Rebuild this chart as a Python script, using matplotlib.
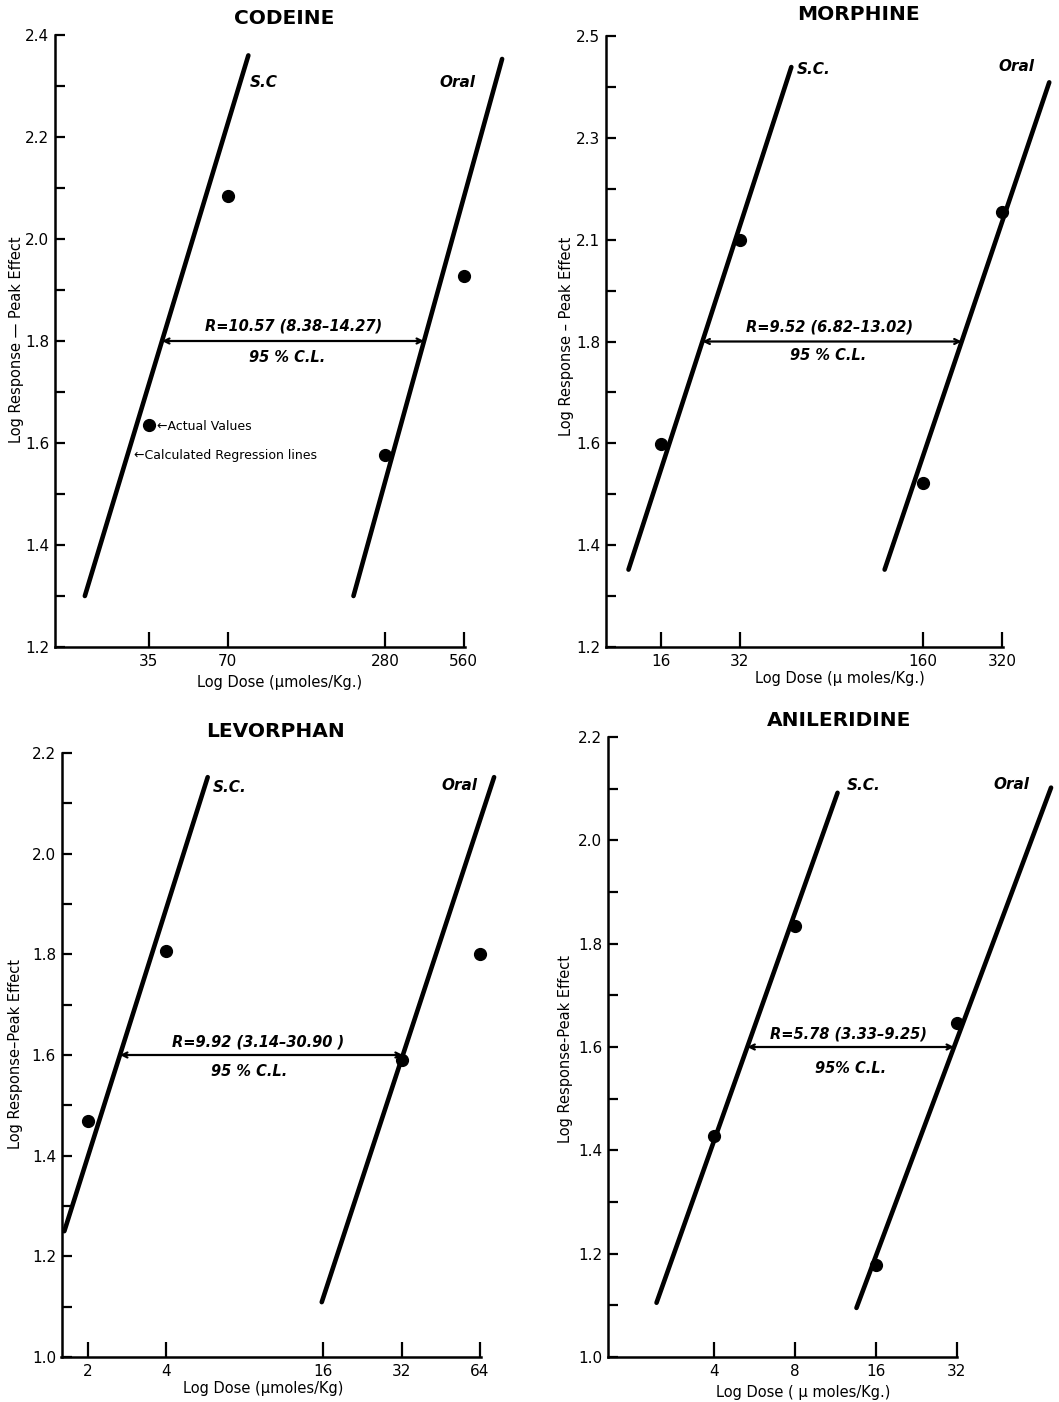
import numpy as np
import matplotlib
matplotlib.use('Agg')
import matplotlib.pyplot as plt
from matplotlib.ticker import NullLocator

plt.rcParams['font.family'] = ['DejaVu Sans']

# ---------------- CODEINE ----------------
codeine_dose = [35, 70, 280, 560]
codeine_resp = [1.635, 2.085, 1.576, 1.927]
codeine_sc_dose = [19.9, 84]
codeine_sc_resp = [1.30, 2.36]
codeine_oral_dose = [212, 785]
codeine_oral_resp = [1.30, 2.353]
codeine_xticks = [35, 70, 280, 560]
codeine_yticks = [1.2, 1.4, 1.6, 1.8, 2.0, 2.2, 2.4]
codeine_ylabels = ['1.2', '1.4', '1.6', '1.8', '2.0', '2.2', '2.4']
codeine_yminor = [1.3, 1.5, 1.7, 1.9, 2.1, 2.3]
codeine_ratio = 'R=10.57 (8.38\u201314.27)'

# ---------------- MORPHINE ----------------
# the printed y labels are unevenly spaced (2.1 -> 1.8 takes one step)
morph_dose = [16, 32, 160, 320]
morph_resp = [1.598, 2.10, 1.522, 2.155]
morph_sc_dose = [12.06, 50.3]
morph_sc_resp = [1.352, 2.439]
morph_oral_dose = [114, 483]
morph_oral_resp = [1.352, 2.409]
morph_xticks = [16, 32, 160, 320]
morph_yticks = [1.2, 1.4, 1.6, 1.8, 2.1, 2.3, 2.5]
morph_ylabels = ['1.2', '1.4', '1.6', '1.8', '2.1', '2.3', '2.5']
morph_yminor = [1.3, 1.5, 1.7, 1.95, 2.2, 2.4]
morph_ratio = 'R=9.52 (6.82\u201313.02)'
morph_knots = [0.0, 1.2, 1.8, 2.1, 2.5, 4.0]
morph_steps = [-6.0, 0.0, 3.0, 4.0, 6.0, 13.5]

# ---------------- LEVORPHAN ----------------
levo_dose = [2, 4, 32, 64]
levo_resp = [1.468, 1.806, 1.59, 1.80]
levo_sc_dose = [1.62, 5.76]
levo_sc_resp = [1.25, 2.152]
levo_oral_dose = [15.8, 72.6]
levo_oral_resp = [1.109, 2.152]
levo_xticks = [2, 4, 16, 32, 64]
levo_yticks = [1.0, 1.2, 1.4, 1.6, 1.8, 2.0, 2.2]
levo_ylabels = ['1.0', '1.2', '1.4', '1.6', '1.8', '2.0', '2.2']
levo_yminor = [1.1, 1.3, 1.5, 1.7, 1.9, 2.1]
levo_ratio = 'R=9.92 (3.14\u201330.90 )'

# ---------------- ANILERIDINE ----------------
anil_dose = [4, 8, 16, 32]
anil_resp = [1.427, 1.834, 1.178, 1.646]
anil_sc_dose = [2.45, 11.54]
anil_sc_resp = [1.105, 2.092]
anil_oral_dose = [13.57, 71.8]
anil_oral_resp = [1.095, 2.102]
anil_xticks = [4, 8, 16, 32]
anil_yticks = [1.0, 1.2, 1.4, 1.6, 1.8, 2.0, 2.2]
anil_ylabels = ['1.0', '1.2', '1.4', '1.6', '1.8', '2.0', '2.2']
anil_yminor = [1.1, 1.3, 1.5, 1.7, 1.9, 2.1]
anil_ratio = 'R=5.78 (3.33\u20139.25)'

W, H = 1059, 1402


def box(left, right, top, bottom):
    return [left / W, 1 - bottom / H, (right - left) / W, (bottom - top) / H]


def morph_fwd(y):
    return np.interp(y, morph_knots, morph_steps)


def morph_inv(u):
    return np.interp(u, morph_steps, morph_knots)


def ident(y):
    return np.asarray(y, dtype=float)


def cross_x(dose, resp, level, fwd):
    # dose where a regression line reaches a given response level
    u = fwd(np.array(resp, dtype=float))
    return 2 ** np.interp(fwd(level), u, np.log2(dose))


panels = [
    dict(name='CODEINE', pos=box(55, 520, 35, 647), xlim=(15.3, 919), ylim=(1.2, 2.4), xend=566,
         dose=codeine_dose, resp=codeine_resp, sc=(codeine_sc_dose, codeine_sc_resp),
         oral=(codeine_oral_dose, codeine_oral_resp), xticks=codeine_xticks,
         yticks=codeine_yticks, ylabels=codeine_ylabels, yminor=codeine_yminor,
         ratio=codeine_ratio, cl='95 % C.L.', level=1.8,
         ratio_xy=(125, 1.829), cl_xy=(118, 1.768), sc_label='S.C', sc_xy=(85, 2.306),
         oral_xy=(454, 2.306), fwd=ident, scale=None,
         title_xy=(284, 19), xlab='Log Dose (\u00b5moles/Kg.)', xlab_xy=(280, 682),
         ylab='Log Response \u2014 Peak Effect', ylab_xy=(17, 340)),
    dict(name='MORPHINE', pos=box(606, 1055, 36, 647), xlim=(9.9, 508), ylim=(1.2, 2.5), xend=321,
         dose=morph_dose, resp=morph_resp, sc=(morph_sc_dose, morph_sc_resp),
         oral=(morph_oral_dose, morph_oral_resp), xticks=morph_xticks,
         yticks=morph_yticks, ylabels=morph_ylabels, yminor=morph_yminor,
         ratio=morph_ratio, cl='95 % C.L.', level=1.8,
         ratio_xy=(70.5, 1.843), cl_xy=(69.7, 1.772), sc_label='S.C.', sc_xy=(52.6, 2.435),
         oral_xy=(309, 2.44), fwd=morph_fwd, scale=(morph_fwd, morph_inv),
         title_xy=(858, 15), xlab='Log Dose (\u00b5 moles/Kg.)', xlab_xy=(840, 678),
         ylab='Log Response \u2013 Peak Effect', ylab_xy=(566, 336)),
    dict(name='LEVORPHAN', pos=box(61.5, 520, 753, 1357), xlim=(1.58, 91.3), ylim=(1.0, 2.2), xend=64.5,
         dose=levo_dose, resp=levo_resp, sc=(levo_sc_dose, levo_sc_resp),
         oral=(levo_oral_dose, levo_oral_resp), xticks=levo_xticks,
         yticks=levo_yticks, ylabels=levo_ylabels, yminor=levo_yminor,
         ratio=levo_ratio, cl='95 % C.L.', level=1.6,
         ratio_xy=(8.96, 1.625), cl_xy=(8.32, 1.567), sc_label='S.C.', sc_xy=(6.0, 2.132),
         oral_xy=(45.7, 2.136), fwd=ident, scale=None,
         title_xy=(275, 732), xlab='Log Dose (\u00b5moles/Kg)', xlab_xy=(263, 1389),
         ylab='Log Response\u2013Peak Effect', ylab_xy=(16, 1054)),
    dict(name='ANILERIDINE', pos=box(608, 1058, 737, 1357), xlim=(1.617, 76.2), ylim=(1.0, 2.2), xend=32.2,
         dose=anil_dose, resp=anil_resp, sc=(anil_sc_dose, anil_sc_resp),
         oral=(anil_oral_dose, anil_oral_resp), xticks=anil_xticks,
         yticks=anil_yticks, ylabels=anil_ylabels, yminor=anil_yminor,
         ratio=anil_ratio, cl='95% C.L.', level=1.6,
         ratio_xy=(12.7, 1.626), cl_xy=(12.9, 1.559), sc_label='S.C.', sc_xy=(12.5, 2.106),
         oral_xy=(44, 2.108), fwd=ident, scale=None,
         title_xy=(839, 721), xlab='Log Dose ( \u00b5 moles/Kg.)', xlab_xy=(803, 1392),
         ylab='Log Response-Peak Effect', ylab_xy=(565, 1049)),
]

fig = plt.figure(figsize=(W / 100, H / 100), dpi=100)

for p in panels:
    ax = fig.add_axes(p['pos'])
    ax.set_xscale('log', base=2)
    if p['scale'] is not None:
        ax.set_yscale('function', functions=p['scale'])
    ax.set_xlim(p['xlim'])
    ax.set_ylim(p['ylim'])

    # regression lines and actual values
    for d, r in (p['sc'], p['oral']):
        ax.plot(d, r, color='black', lw=3.3, solid_capstyle='round', clip_on=False, zorder=3)
    ax.plot(p['dose'], p['resp'], 'o', color='black', ms=8.5, clip_on=False, zorder=4)

    # potency ratio arrow between the two lines
    xl = cross_x(p['sc'][0], p['sc'][1], p['level'], p['fwd'])
    xr = cross_x(p['oral'][0], p['oral'][1], p['level'], p['fwd'])
    ax.annotate('', xy=(xr, p['level']), xytext=(xl, p['level']),
                arrowprops=dict(arrowstyle='<->', lw=1.6, color='black',
                                shrinkA=0, shrinkB=0, mutation_scale=9))
    ax.text(*p['ratio_xy'], p['ratio'], ha='center', va='center', fontsize=10.5,
            fontweight='bold', style='italic')
    ax.text(*p['cl_xy'], p['cl'], ha='center', va='center', fontsize=10.5,
            fontweight='bold', style='italic')
    ax.text(*p['sc_xy'], p['sc_label'], ha='left', va='center', fontsize=11,
            fontweight='bold', style='italic')
    ax.text(*p['oral_xy'], 'Oral', ha='left', va='center', fontsize=11,
            fontweight='bold', style='italic')

    # axes look
    for s in ('top', 'right'):
        ax.spines[s].set_visible(False)
    for s in ('left', 'bottom'):
        ax.spines[s].set_linewidth(1.8)
    ax.spines['bottom'].set_bounds(p['xlim'][0], p['xend'])
    ax.set_xticks(p['xticks'], [str(t) for t in p['xticks']])
    ax.xaxis.set_minor_locator(NullLocator())
    ax.set_yticks(p['yticks'], p['ylabels'])
    ax.set_yticks(p['yminor'], minor=True)
    ax.tick_params(axis='x', which='major', direction='in', length=11, width=1.6,
                   labelsize=11, pad=5)
    ax.tick_params(axis='y', which='both', direction='in', length=7, width=1.6,
                   labelsize=11, pad=4)

    fig.text(p['title_xy'][0] / W, 1 - p['title_xy'][1] / H, p['name'], ha='center',
             va='center', fontsize=14.5, fontweight='heavy')
    fig.text(p['xlab_xy'][0] / W, 1 - p['xlab_xy'][1] / H, p['xlab'], ha='center',
             va='center', fontsize=10.5)
    fig.text(p['ylab_xy'][0] / W, 1 - p['ylab_xy'][1] / H, p['ylab'], ha='center',
             va='center', fontsize=10.5, rotation=90)

    if p['name'] == 'CODEINE':
        ax.text(37.7, 1.632, '\u2190Actual Values', ha='left', va='center', fontsize=9)
        ax.text(30.6, 1.575, '\u2190Calculated Regression lines', ha='left', va='center',
                fontsize=9)

fig.savefig('out.png', dpi=100, facecolor='white')
